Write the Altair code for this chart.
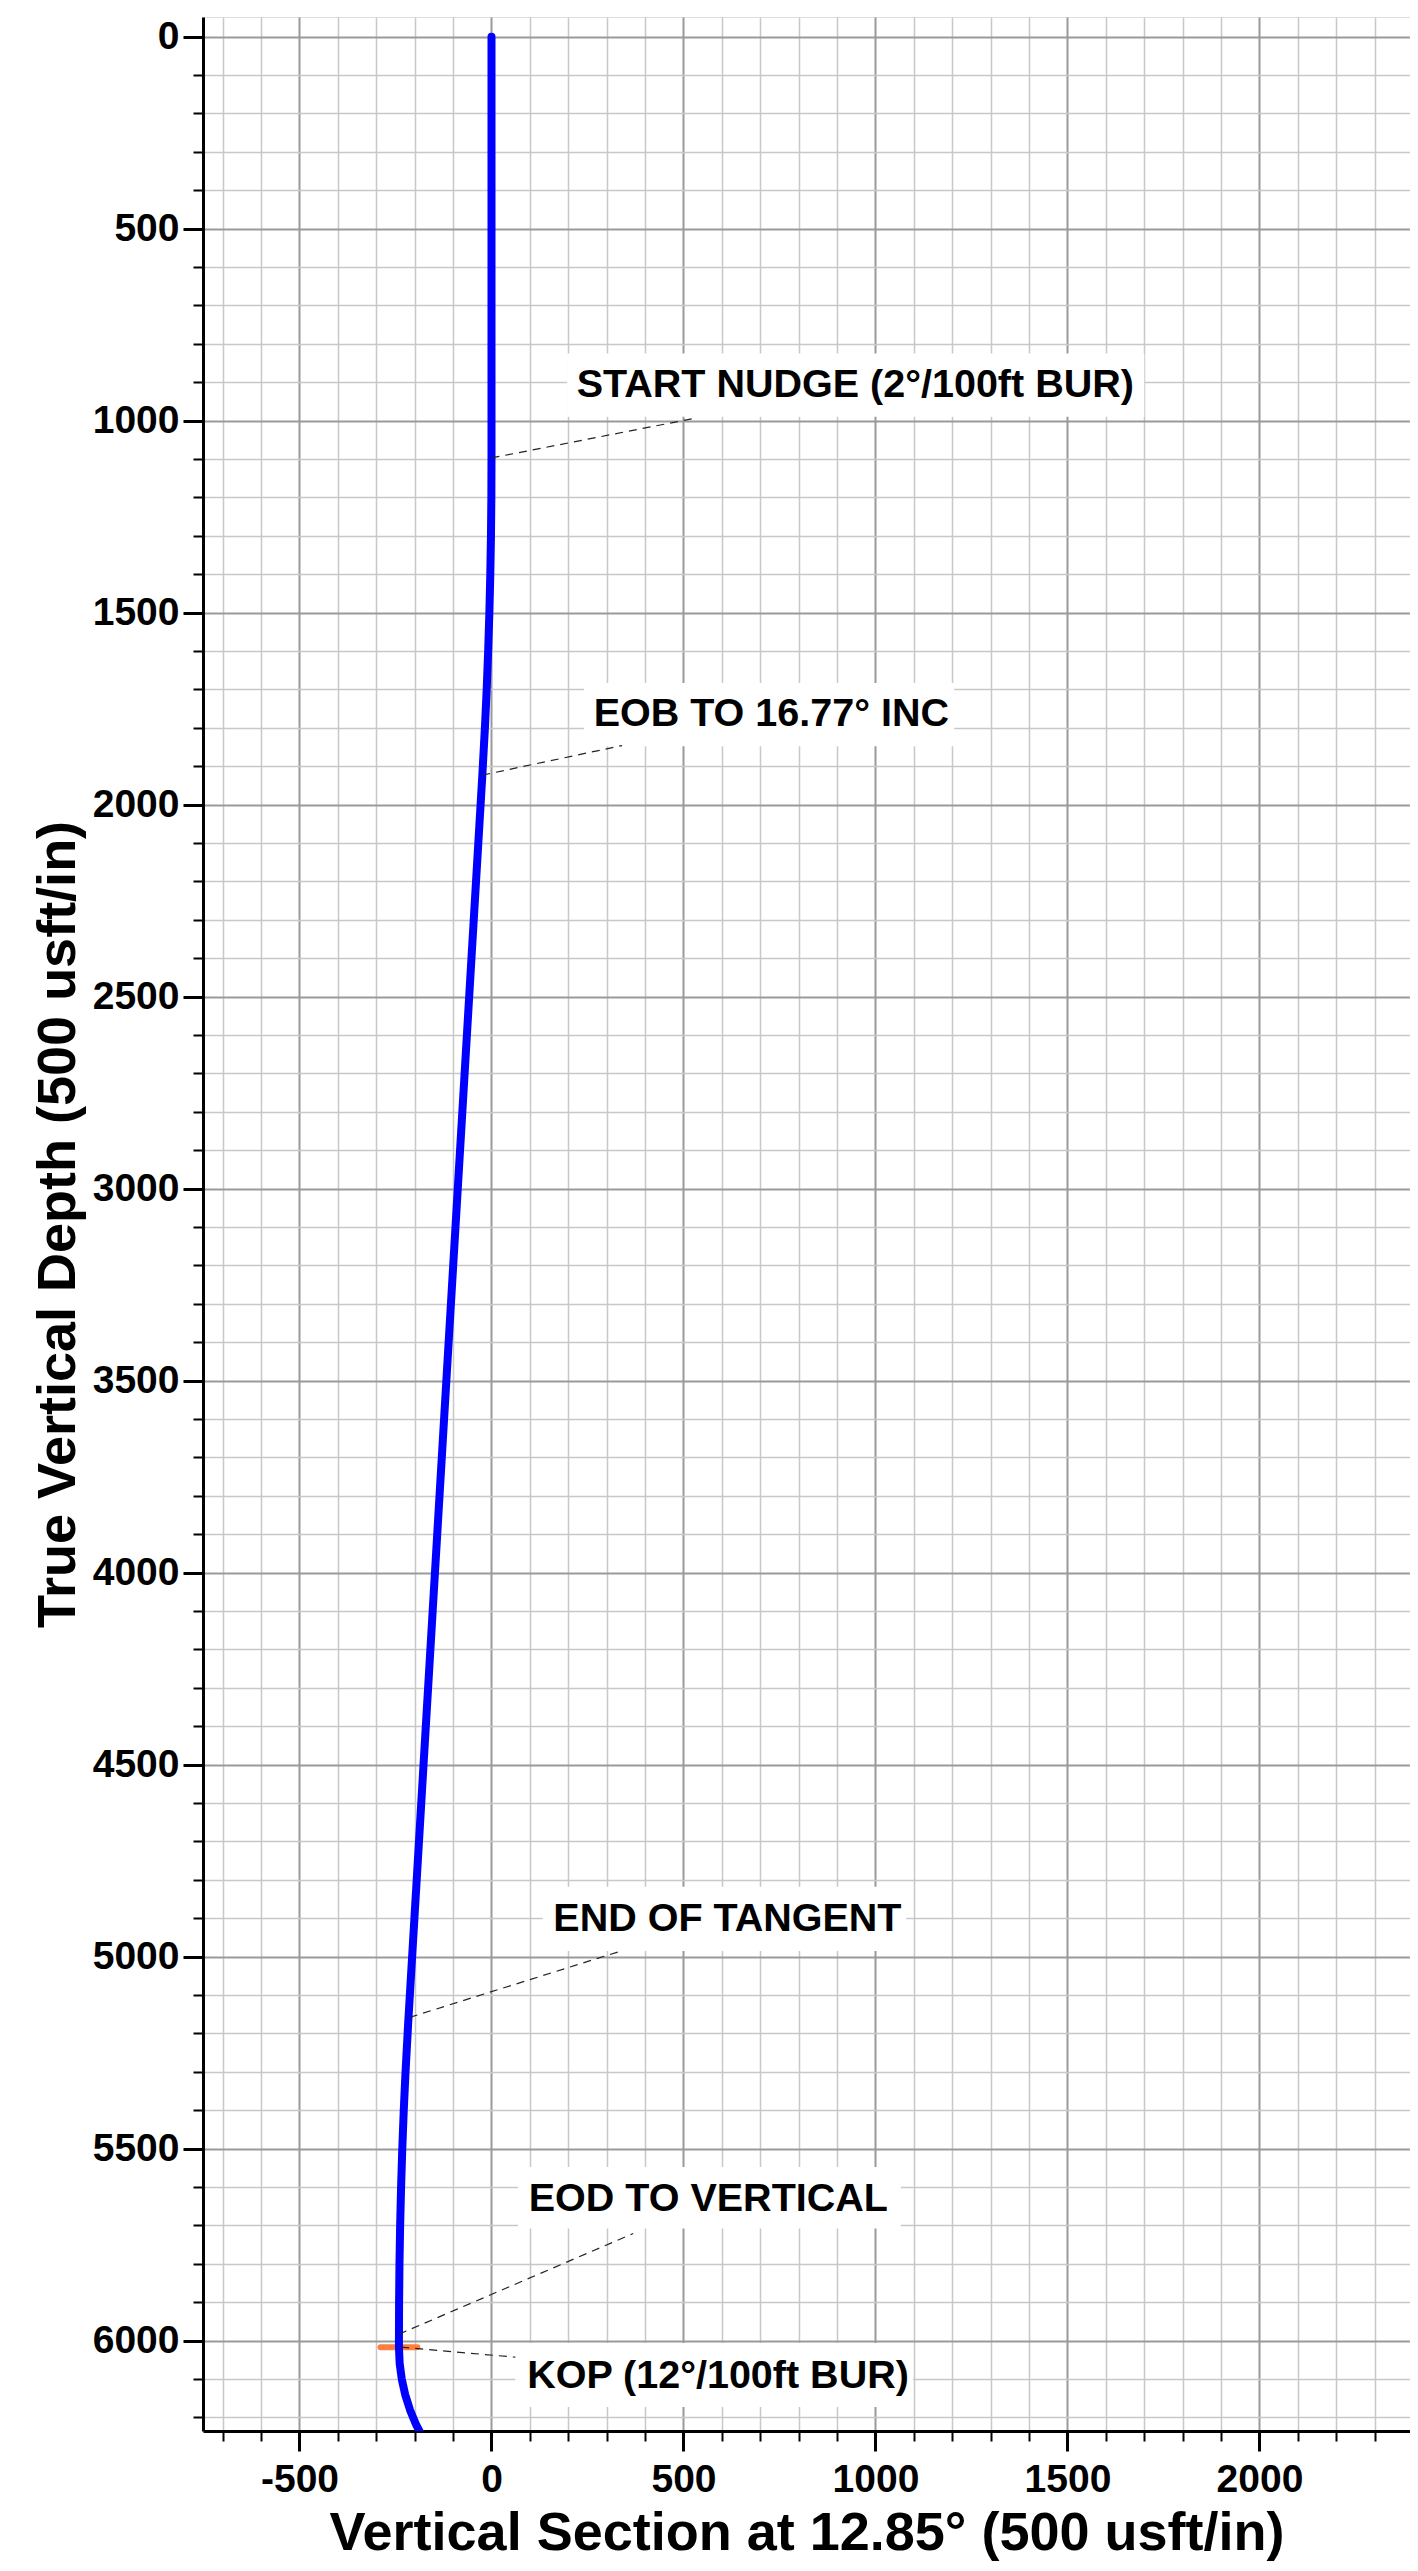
import altair as alt
import pandas as pd

FONT = "Liberation Sans"

# ---- well path: true vertical depth (ft) and vertical section (ft)
path_tvd = [0, 500, 1000, 1100, 1200.0, 1299.9, 1399.5, 1498.8, 1597.5, 1695.7, 1793.1, 1926.6,
            5173.4, 5306.9, 5404.3, 5502.5, 5601.2, 5700.5, 5800.1, 5900.0, 6000.0, 6017.0,
            6058.6, 6099.9, 6140.6, 6180.3, 6218.8, 6255.8]
path_vs = [0, 0, 0, 0, -0.34, -1.38, -3.10, -5.50, -8.59, -12.35, -16.79, -24.04,
           -217.0, -224.2, -228.65, -232.41, -235.50, -237.90, -239.62, -240.66, -241.0, -241.0,
           -239.2, -233.7, -224.7, -212.2, -196.3, -177.0]

# ---- KOP marker (short orange bar)
kop_vs = [-289, -193]
kop_tvd = [6017]

# ---- annotations
labels = ["START NUDGE (2°/100ft BUR)", "EOB TO 16.77° INC", "END OF TANGENT",
          "EOD TO VERTICAL", "KOP (12°/100ft BUR)"]
label_vs = [222, 266, 161, 97, 93]
label_tvd = [907, 1765, 4901, 5630, 6091]
box_vs_start = [197, 241, 133, 69, 62]
box_vs_end = [1700, 1205, 1080, 1066, 1098]
box_tvd_top = [825, 1683, 4818, 5548, 6006]
box_tvd_bottom = [990, 1848, 4985, 5708, 6173]
leader_from_vs = [0, -24, -213, -241, -235]
leader_from_tvd = [1097, 1923, 5158, 5983, 6017]
leader_to_vs = [533, 340, 338, 369, 62]
leader_to_tvd = [993, 1846, 4985, 5721, 6043]

# ---- axes
x_domain = [-751.3, 2392.0]
y_domain = [-51.3, 6235.2]
x_ticks = list(range(-700, 2401, 100))
y_ticks = list(range(0, 6201, 100))
x_title = "Vertical Section at 12.85° (500 usft/in)"
y_title = "True Vertical Depth (500 usft/in)"

path_df = pd.DataFrame({"idx": range(len(path_tvd)), "tvd": path_tvd, "vs": path_vs})
kop_df = pd.DataFrame({"vs": [kop_vs[0]], "vs2": [kop_vs[1]], "tvd": kop_tvd})
ann_df = pd.DataFrame({
    "label": labels, "vs": label_vs, "tvd": label_tvd,
    "bx1": box_vs_start, "bx2": box_vs_end, "by1": box_tvd_top, "by2": box_tvd_bottom,
    "lx1": leader_from_vs, "ly1": leader_from_tvd, "lx2": leader_to_vs, "ly2": leader_to_tvd,
})

MAJOR = "datum.value % 500 === 0"


def make_axis(title, values, label_pad, **kw):
    return alt.Axis(
        title=title, values=values,
        labelExpr=f"{MAJOR} ? '' + datum.value : ''",
        labelFont=FONT, labelFontSize=39, labelFontWeight="bold", labelColor="black",
        labelPadding=label_pad, labelOverlap=False, labelFlush=False, labelBound=False,
        tickSize={"condition": {"test": MAJOR, "value": 20}, "value": 10},
        tickWidth={"condition": {"test": MAJOR, "value": 3}, "value": 2},
        tickColor="black",
        domainColor="black", domainWidth=3,
        grid=True,
        gridColor={"condition": {"test": MAJOR, "value": "#9a9a9a"}, "value": "#c8c8c8"},
        gridWidth={"condition": {"test": MAJOR, "value": 2}, "value": 1.5},
        titleFont=FONT, titleFontSize=54, titleFontWeight="bold", titleColor="black",
        **kw,
    )


x_scale = alt.Scale(domain=x_domain, nice=False, zero=False)
y_scale = alt.Scale(domain=y_domain, nice=False, zero=False, reverse=True)
x_axis = make_axis(x_title, x_ticks, 9, titleBaseline="alphabetic", titleY=118)
y_axis = make_axis(y_title, y_ticks, 4, titleBaseline="alphabetic", titleX=-129)


def X(field):
    return alt.X(f"{field}:Q", scale=x_scale, axis=x_axis)


def Y(field):
    return alt.Y(f"{field}:Q", scale=y_scale, axis=y_axis)


boxes = alt.Chart(ann_df).mark_rect(color="white", opacity=1).encode(
    x=X("bx1"), x2="bx2", y=Y("by1"), y2="by2"
)

kop = alt.Chart(kop_df).mark_rule(color="#FF7F40", strokeWidth=6, strokeCap="round").encode(
    x=X("vs"), x2="vs2", y=Y("tvd")
)

path = alt.Chart(path_df).mark_line(
    color="#0000FF", strokeWidth=8, strokeCap="round", strokeJoin="round", clip=True
).encode(x=X("vs"), y=Y("tvd"), order=alt.Order("idx:Q"))

leaders = alt.Chart(ann_df).mark_rule(
    color="#222222", strokeWidth=1.2, strokeDash=[8, 6]
).encode(x=X("lx1"), y=Y("ly1"), x2="lx2", y2="ly2")

texts = alt.Chart(ann_df).mark_text(
    align="left", baseline="middle", font=FONT, fontSize=39.5, fontWeight="bold", color="black"
).encode(x=X("vs"), y=Y("tvd"), text="label:N")

chart = alt.layer(boxes, kop, path, leaders, texts).properties(
    width=1207, height=2414,
    padding={"left": 195, "top": 9, "right": 0, "bottom": 130},
    autosize=alt.AutoSizeParams(type="none"),
).configure_view(stroke="#8a8a8a", strokeWidth=2).configure(background="white")

chart.save("out.html", embed_options={"renderer": "svg", "actions": False})
